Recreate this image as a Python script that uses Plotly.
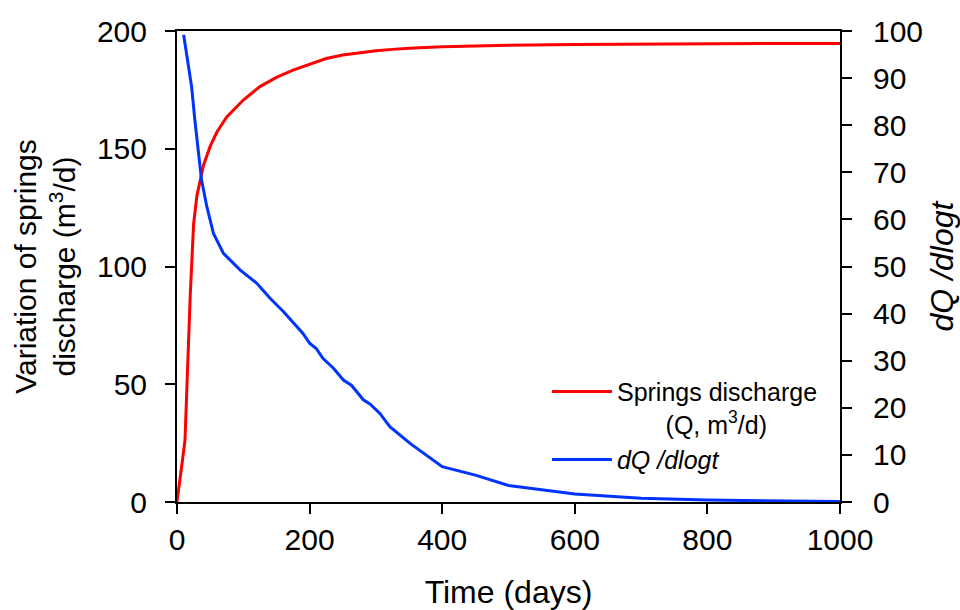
import plotly.graph_objects as go

# Springs discharge Q (m3/d), left axis
t_q = [0, 12, 20, 25, 30, 35, 40, 50, 60, 75, 100, 125, 150, 175, 200, 225, 250,
       275, 300, 325, 350, 400, 450, 500, 600, 700, 800, 900, 1000]
q = [0, 26, 88, 118, 130, 137, 143, 151, 157, 163.5, 170.7, 176.4, 180.3, 183.4,
     186, 188.3, 189.8, 190.8, 191.6, 192.2, 192.7, 193.3, 193.7, 194.0, 194.3,
     194.5, 194.6, 194.7, 194.7]

# dQ/dlogt, right axis
t_d = [10, 15, 22, 27, 32, 37, 45, 55, 70, 95, 120, 140, 160, 170, 190, 200, 210,
       220, 236, 251, 263, 281, 291, 306, 321, 351, 376, 400, 450, 500, 600, 700,
       800, 900, 1000]
d = [99.2, 95, 88.2, 81, 74, 68.4, 62.7, 57, 52.8, 49.3, 46.5, 43.3, 40.5, 39,
     35.8, 33.7, 32.6, 30.5, 28.4, 25.9, 24.8, 21.7, 20.8, 18.8, 16, 12.5, 10,
     7.5, 5.7, 3.5, 1.7, 0.8, 0.4, 0.2, 0.1]

x_ticks = [0, 200, 400, 600, 800, 1000]
y_ticks = [0, 50, 100, 150, 200]
y2_ticks = list(range(0, 101, 10))

FONT = "Liberation Sans, Arial, sans-serif"
NB = "\u00a0"

fig = go.Figure()
fig.add_trace(go.Scatter(
    x=t_q, y=q, mode="lines", line=dict(color="#ff0000", width=3),
    name="Springs discharge<br>" + NB * 7 + "(Q, m<sup>3</sup>/d)", yaxis="y"))
fig.add_trace(go.Scatter(
    x=t_d, y=d, mode="lines", line=dict(color="#0033ff", width=3),
    name="<i>dQ /dlogt</i>", yaxis="y2"))

axis_common = dict(showline=True, linecolor="black", linewidth=2,
                   ticks="outside", ticklen=10, tickwidth=2, tickcolor="black",
                   showgrid=False, zeroline=False, automargin=False,
                   tickfont=dict(size=30, color="black", family=FONT))

fig.update_layout(
    width=960, height=610,
    margin=dict(l=177, r=120, t=31, b=108),
    paper_bgcolor="white", plot_bgcolor="white",
    font=dict(family=FONT, color="black"),
    showlegend=True,
    legend=dict(x=0.558, y=0.283, xanchor="left", yanchor="top",
                bgcolor="rgba(0,0,0,0)", font=dict(size=25, color="black"),
                valign="top", itemwidth=60, tracegroupgap=0),
    xaxis=dict(range=[0, 1000], tickvals=x_ticks, mirror=True,
               title=dict(text="Time (days)", font=dict(size=32), standoff=26),
               ticklabelstandoff=0, **axis_common),
    yaxis=dict(range=[0, 200], tickvals=y_ticks,
               title=dict(text="Variation of springs<br>discharge (m<sup>3</sup>/d)",
                          font=dict(size=30), standoff=12),
               ticklabelstandoff=12, **axis_common),
    yaxis2=dict(range=[0, 100], tickvals=y2_ticks, overlaying="y", side="right",
                title=dict(text="<i>dQ /dlogt</i>", font=dict(size=32), standoff=16),
                ticklabelstandoff=15, **axis_common),
)

fig.write_html("out.html")
